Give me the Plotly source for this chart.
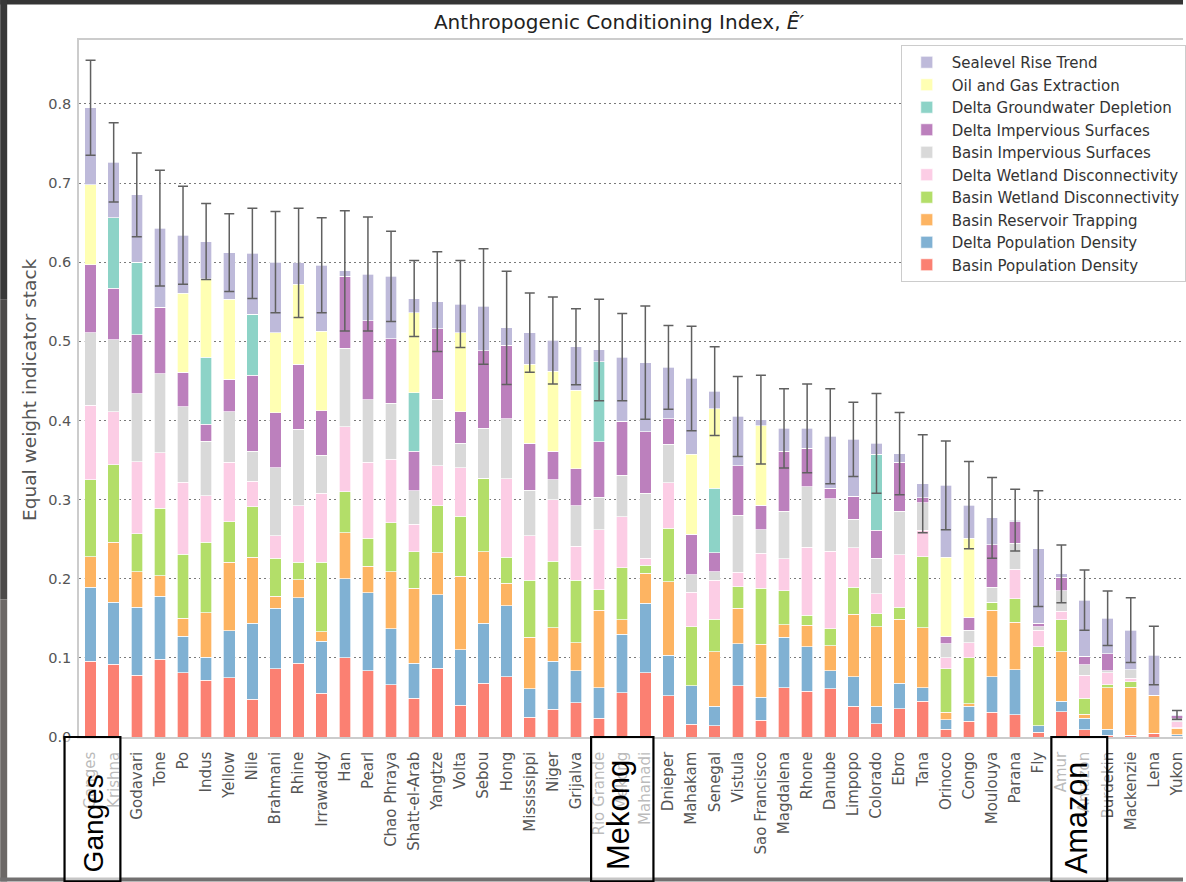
import plotly.graph_objects as go

deltas = ["Ganges", "Krishna", "Godavari", "Tone", "Po", "Indus", "Yellow", "Nile",
          "Brahmani", "Rhine", "Irrawaddy", "Han", "Pearl", "Chao Phraya", "Shatt-el-Arab",
          "Yangtze", "Volta", "Sebou", "Hong", "Mississippi", "Niger", "Grijalva",
          "Rio Grande", "Mekong", "Mahanadi", "Dnieper", "Mahakam", "Senegal", "Vistula",
          "Sao Francisco", "Magdalena", "Rhone", "Danube", "Limpopo", "Colorado", "Ebro",
          "Tana", "Orinoco", "Congo", "Moulouya", "Parana", "Fly", "Amur", "Amazon",
          "Burdekin", "Mackenzie", "Lena", "Yukon"]

basin_pop = [.096, .092, .078, .098, .081, .072, .075, .048, .086, .093, .055, .100, .084, .066,
             .049, .087, .040, .068, .076, .025, .035, .043, .024, .056, .081, .052, .016, .014,
             .065, .021, .062, .058, .061, .039, .017, .036, .045, .010, .020, .031, .028, .006,
             .032, .009, .002, .002, .005, .001]
delta_pop = [.093, .078, .086, .080, .046, .029, .059, .096, .077, .083, .066, .100, .098, .071,
             .044, .093, .070, .076, .090, .036, .061, .041, .038, .074, .088, .051, .049, .025,
             .053, .029, .064, .056, .023, .037, .022, .032, .017, .012, .019, .045, .057, .008,
             .013, .015, .008, 0, 0, .002]
reservoir = [.039, .076, .045, .026, .023, .056, .087, .083, .015, .023, .012, .058, .034, .072,
             .095, .053, .093, .090, .028, .065, .042, .035, .098, .018, .038, .093, 0, .069,
             .045, .067, .016, .027, .031, .079, .100, .081, .076, .009, .003, .084, .060, 0,
             .063, .005, .052, .061, .048, .008]
basin_wet = [.097, .098, .048, .085, .081, .089, .051, .064, .048, .022, .088, .052, .035, .062,
             .046, .059, .076, .093, .033, .072, .084, .079, .026, .066, .010, .068, .074, .041,
             .027, .071, .043, .013, .022, .034, .017, .015, .090, .055, .058, .010, .030, .100,
             .040, .020, .004, .007, 0, .001]
delta_wet = [.094, .067, .091, .070, .091, .059, .075, .032, .028, .071, .087, .082, .096, .080,
             .035, .051, .061, 0, .099, .056, .078, .043, .076, .064, .009, .057, .044, .049,
             .018, .044, .040, .086, .098, .050, .025, .066, .033, .014, .019, 0, .037, .021,
             .011, .029, .015, .004, 0, .007]
basin_imp = [.092, .091, .086, .100, .095, .069, .064, .038, .086, .097, .048, .099, .079, .071,
             .042, .084, .031, .063, .076, .058, .025, .051, .041, .053, .082, .049, .022, .011,
             .072, .030, .060, .076, .066, .036, .045, .055, .035, .018, .016, .019, .033, .004,
             .026, .013, .003, .011, 0, .004]
delta_imp = [.086, .065, .074, .084, .044, .021, .041, .096, .070, .082, .056, .091, .100, .081,
             .050, .089, .040, .098, .093, .059, .036, .047, .070, .068, .078, .032, .051, .024,
             .063, .031, .076, .049, .013, .029, .035, .062, .006, .009, .016, .054, .027, .005,
             .017, .011, .021, 0, 0, .004]
groundwater = [0, .089, .092, 0, 0, .085, 0, .077, 0, 0, 0, 0, 0, 0,
               .074, 0, 0, 0, 0, 0, 0, 0, .101, 0, 0, 0, 0, .081,
               0, 0, 0, 0, 0, 0, .096, 0, 0, 0, 0, 0, 0, 0,
               0, 0, 0, 0, 0, 0]
oil_gas = [.101, 0, 0, 0, .100, .099, .101, 0, .101, .101, .101, 0, 0, 0,
           .101, 0, .100, 0, 0, .100, .101, .099, 0, 0, 0, 0, .101, .101,
           0, .100, 0, 0, 0, 0, 0, 0, 0, .100, .100, 0, 0, 0,
           0, 0, 0, 0, 0, 0]
sealevel = [.097, .070, .085, .100, .073, .047, .059, .077, .089, .027, .083, .007, .059, .079,
            .018, .034, .036, .056, .022, .040, .039, .055, .015, .081, .087, .065, .096, .022,
            .062, .008, .029, .025, .066, .072, .014, .011, .018, .091, .042, .034, .002, .094,
            .004, .071, .045, .050, .050, .001]
error = [.060, .050, .053, .073, .062, .048, .049, .057, .064, .069, .060, .076, .072, .057,
         .048, .063, .055, .073, .0715, .050, .055, .048, .064, .055, .0715, .053, .066, .056,
         .0505, .056, .050, .056, .060, .047, .063, .052, .062, .056, .055, .051, .039, .073,
         .0365, .038, .0345, .041, .037, .0055]

series = [
    ("Basin Population Density", basin_pop, "#fb8072"),
    ("Delta Population Density", delta_pop, "#80b1d3"),
    ("Basin Reservoir Trapping", reservoir, "#fdb462"),
    ("Basin Wetland Disconnectivity", basin_wet, "#b3de69"),
    ("Delta Wetland Disconnectivity", delta_wet, "#fccde5"),
    ("Basin Impervious Surfaces", basin_imp, "#d9d9d9"),
    ("Delta Impervious Surfaces", delta_imp, "#bc80bd"),
    ("Delta Groundwater Depletion", groundwater, "#8dd3c7"),
    ("Oil and Gas Extraction", oil_gas, "#ffffb3"),
    ("Sealevel Rise Trend", sealevel, "#bebada"),
]

fig = go.Figure()
for name, vals, col in series:
    fig.add_trace(go.Bar(x=deltas, y=vals, name=name, width=0.5,
                         marker=dict(color=col, line=dict(color="rgba(255,255,255,0.85)", width=0.8))))

totals = [sum(s[1][i] for s in series) for i in range(len(deltas))]
fig.add_trace(go.Scatter(x=deltas, y=totals, mode="markers", showlegend=False,
                         marker=dict(size=2, color="rgba(0,0,0,0)"),
                         error_y=dict(type="data", array=error, symmetric=True,
                                      color="#606060", thickness=1.5, width=5)))

W, H = 1186, 882
L, R, T, B = 79, 0, 40, 144.5
PW, PH = W - L - R, H - T - B


def px(x):
    return (x - L) / PW


def py(y):
    return (H - B - y) / PH


shapes = []
# screenshot borders
shapes.append(dict(type="rect", xref="paper", yref="paper", x0=px(0), x1=px(W),
                   y0=py(4.5), y1=py(0), fillcolor="#353535", line=dict(width=0), layer="above"))
for (ya, yb, c) in [(0, 300, "#383838"), (300, 600, "#4c4a49"), (600, H, "#6c6866")]:
    shapes.append(dict(type="rect", xref="paper", yref="paper", x0=px(0), x1=px(7),
                       y0=py(yb), y1=py(ya), fillcolor=c, line=dict(width=0), layer="above"))
shapes.append(dict(type="rect", xref="paper", yref="paper", x0=px(0), x1=px(W),
                   y0=py(H), y1=py(878), fillcolor="#727070", line=dict(width=0), layer="above"))
# highlight boxes
for (xa, xb) in [(64.5, 120.5), (592.5, 655), (1054, 1110)]:
    shapes.append(dict(type="rect", xref="paper", yref="paper", x0=px(xa), x1=px(xb),
                       y0=py(H), y1=py(737.5), fillcolor="rgba(255,255,255,0.6)",
                       line=dict(color="black", width=2.2), layer="above"))

annotations = [
    dict(text="Equal weight indicator stack", xref="paper", yref="paper", x=px(30), y=py(390),
         textangle=-90, showarrow=False, xanchor="center", yanchor="middle",
         font=dict(size=18.5, color="#555555")),
]
for (txt, cx, cy, fs) in [("Ganges", 93, 824, 28), ("Mekong", 620, 816, 31), ("Amazon", 1079, 818, 30.5)]:
    annotations.append(dict(text=txt, xref="paper", yref="paper", x=px(cx), y=py(cy),
                            textangle=-90, showarrow=False, xanchor="center", yanchor="middle",
                            font=dict(size=fs, color="black", family="Liberation Sans")))

fig.update_layout(
    width=W, height=H,
    margin=dict(l=L, r=R, t=T, b=B, pad=0),
    barmode="stack",
    bargap=0.5,
    paper_bgcolor="white",
    plot_bgcolor="white",
    font=dict(family="DejaVu Sans", color="#555555"),
    title=dict(text="Anthropogenic Conditioning Index, <i>Ê′</i>", xref="container", yref="container",
               x=619 / W, y=1 - 22 / H, xanchor="center", yanchor="middle",
               font=dict(size=20, color="#222222")),
    legend=dict(x=px(903), y=py(45), xanchor="left", yanchor="top", traceorder="reversed",
                bgcolor="white", bordercolor="#cccccc", borderwidth=1, itemwidth=40,
                font=dict(size=15, color="#333333")),
    xaxis=dict(type="category", range=[-0.5, 47.26], tickangle=-90,
               tickfont=dict(size=15, color="#555555"),
               ticks="outside", ticklen=7, tickcolor="rgba(0,0,0,0)",
               showgrid=False, showline=True, linecolor="#cccccc", linewidth=1.5, mirror=True,
               zeroline=False),
    yaxis=dict(range=[0, (H - B - T) / 792.0], tickvals=[0, .1, .2, .3, .4, .5, .6, .7, .8],
               ticktext=["0.0", "0.1", "0.2", "0.3", "0.4", "0.5", "0.6", "0.7", "0.8"],
               tickfont=dict(size=14.5, color="#555555"),
               ticks="outside", ticklen=3, tickcolor="rgba(0,0,0,0)",
               showgrid=True, gridcolor="#7a7a7a", gridwidth=1, griddash="2px,3px",
               showline=True, linecolor="#cccccc", linewidth=1.5, zeroline=False),
    shapes=shapes,
    annotations=annotations,
)

fig.write_html("out.html")
